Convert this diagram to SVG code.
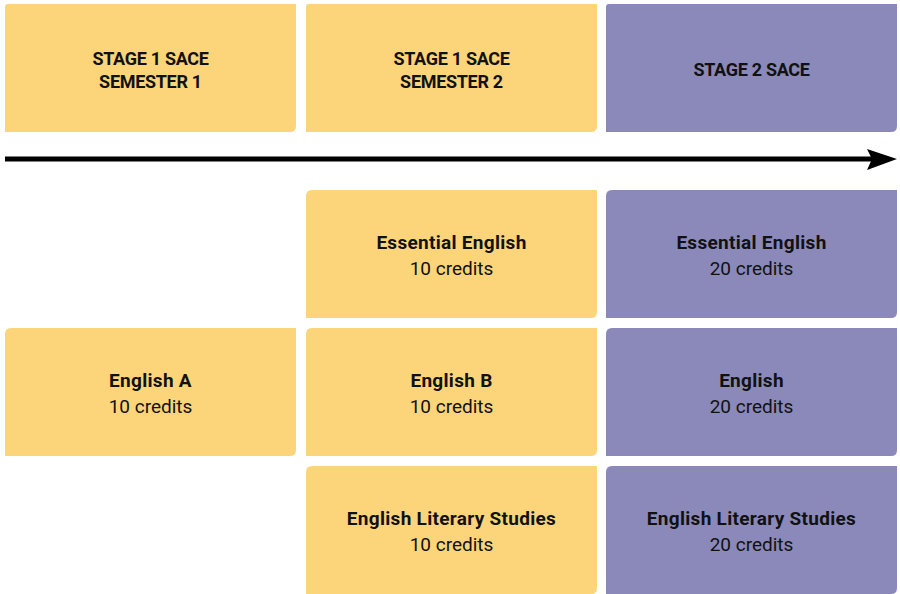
<svg xmlns="http://www.w3.org/2000/svg" width="900" height="594" viewBox="0 0 900 594">
<style>
.y{fill:#FCD57A}
.p{fill:#8A89BA}
text{font-family:Roboto,"Liberation Sans",sans-serif;font-size:19px;fill:#111;text-anchor:middle}
.h{font-weight:700;font-size:18px;letter-spacing:-0.3px}
.b{font-weight:700;letter-spacing:0.3px}
</style>
<defs>
<path id="box" d="M3,0 H291 V122 Q291,128 285,128 H0 V3 Q0,0 3,0 Z"/>
<path id="box2" d="M6,0 H291 V122 Q291,128 285,128 H0 V6 Q0,0 6,0 Z"/>
</defs>
<rect width="900" height="594" fill="#fff"/>
<g id="h1"><use href="#box" x="5" y="4" class="y"/><text class="h" x="150.5" y="65">STAGE 1 SACE</text><text class="h" x="150.5" y="88">SEMESTER 1</text></g>
<g id="h2"><use href="#box" x="306" y="4" class="y"/><text class="h" x="451.5" y="65">STAGE 1 SACE</text><text class="h" x="451.5" y="88">SEMESTER 2</text></g>
<g id="h3"><use href="#box" x="606" y="4" class="p"/><text class="h" x="751.5" y="76">STAGE 2 SACE</text></g>
<g id="connectors">
<line x1="5" y1="159" x2="872" y2="159" stroke="#000" stroke-width="5"/>
<path d="M897,159 L867,149 L872,159 L867,170 Z" fill="#000"/>
</g>
<g id="ee1"><use href="#box2" x="306" y="190" class="y"/><text class="b" x="451.5" y="249">Essential English</text><text x="451.5" y="275">10 credits</text></g>
<g id="ee2"><use href="#box2" x="606" y="190" class="p"/><text class="b" x="751.5" y="249">Essential English</text><text x="751.5" y="275">20 credits</text></g>
<g id="ea"><use href="#box2" x="5" y="328" class="y"/><text class="b" x="150.5" y="387">English A</text><text x="150.5" y="413">10 credits</text></g>
<g id="eb"><use href="#box2" x="306" y="328" class="y"/><text class="b" x="451.5" y="387">English B</text><text x="451.5" y="413">10 credits</text></g>
<g id="en"><use href="#box2" x="606" y="328" class="p"/><text class="b" x="751.5" y="387">English</text><text x="751.5" y="413">20 credits</text></g>
<g id="els1"><use href="#box2" x="306" y="466" class="y"/><text class="b" x="451.5" y="525">English Literary Studies</text><text x="451.5" y="551">10 credits</text></g>
<g id="els2"><use href="#box2" x="606" y="466" class="p"/><text class="b" x="751.5" y="525">English Literary Studies</text><text x="751.5" y="551">20 credits</text></g>
</svg>
